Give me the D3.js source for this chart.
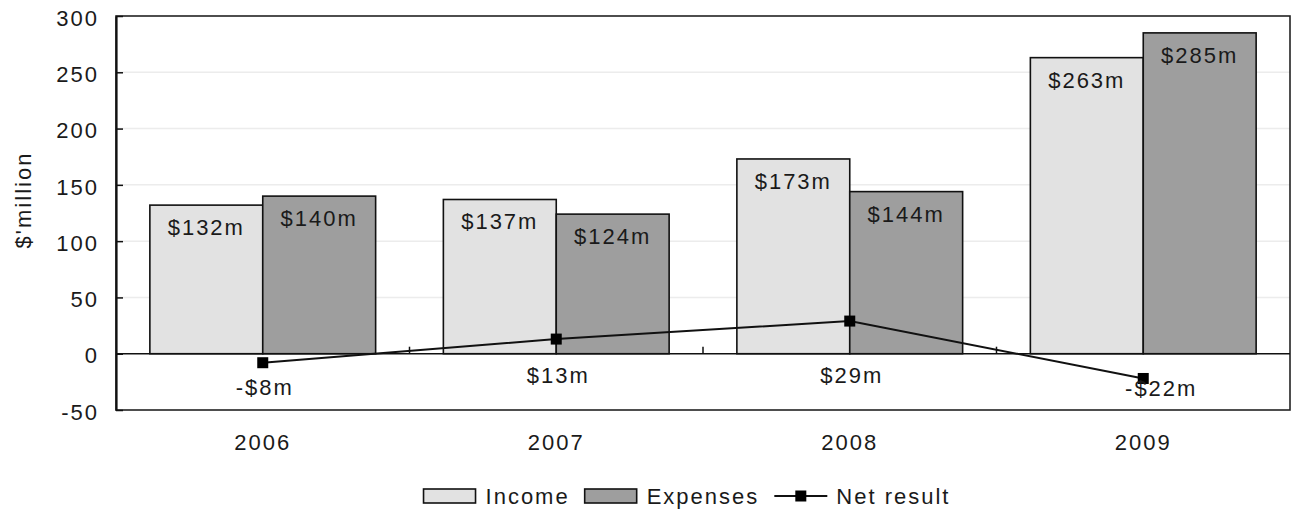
<!DOCTYPE html>
<html>
<head>
<meta charset="utf-8">
<script src="https://cdn.jsdelivr.net/npm/d3@7"></script>
<style>
  html, body { margin: 0; padding: 0; background: #fff; }
  svg { display: block; }
  text { font-family: "Liberation Sans", Arial, sans-serif; font-size: 22px; fill: #1a1a1a; letter-spacing: 2px; }
</style>
</head>
<body>
<svg id="chart" width="1292" height="511"></svg>
<script>
// Financial summary, $ million
const years = ["2006", "2007", "2008", "2009"];
const income = [132, 137, 173, 263];
const expenses = [140, 124, 144, 285];
const netResult = [-8, 13, 29, -22];
const yTicks = [-50, 0, 50, 100, 150, 200, 250, 300];
const seriesNames = ["Income", "Expenses", "Net result"];
const barColors = { Income: "#e2e2e2", Expenses: "#9e9e9e" };

const svg = d3.select("#chart");
const plot = { left: 116, right: 1290, top: 16, bottom: 410 };

const x = d3.scaleBand().domain(years).range([plot.left, plot.right]).padding(0);
const xInner = d3.scaleBand().domain(["Income", "Expenses"]).range([0, x.bandwidth()])
  .paddingInner(0).paddingOuter(0.3);
const y = d3.scaleLinear().domain([-50, 300]).range([plot.bottom, plot.top]);

const money = v => (v < 0 ? "-$" : "$") + Math.abs(v) + "m";

// light gridlines
svg.append("g").selectAll("line")
  .data(yTicks.filter(t => t !== 0 && t !== 300 && t !== -50))
  .join("line")
  .attr("x1", plot.left).attr("x2", plot.right)
  .attr("y1", d => y(d)).attr("y2", d => y(d))
  .attr("stroke", "#ececec").attr("stroke-width", 1.5);

// bars
const rows = years.map((yr, i) => ({ year: yr, Income: income[i], Expenses: expenses[i] }));
const barG = svg.append("g");
["Income", "Expenses"].forEach(key => {
  const g = barG.append("g");
  g.selectAll("rect").data(rows).join("rect")
    .attr("x", d => x(d.year) + xInner(key))
    .attr("y", d => y(d[key]))
    .attr("width", xInner.bandwidth())
    .attr("height", d => y(0) - y(d[key]))
    .attr("fill", barColors[key])
    .attr("stroke", "#111").attr("stroke-width", 1.6);
  g.selectAll("text").data(rows).join("text")
    .attr("x", d => x(d.year) + xInner(key) + xInner.bandwidth() / 2)
    .attr("y", d => y(d[key]) + 30)
    .attr("text-anchor", "middle")
    .text(d => money(d[key]));
});

// plot frame
svg.append("rect")
  .attr("x", plot.left).attr("y", plot.top)
  .attr("width", plot.right - plot.left).attr("height", plot.bottom - plot.top)
  .attr("fill", "none").attr("stroke", "#222").attr("stroke-width", 1.6);

// y axis with inward ticks
const yAxis = d3.axisLeft(y).tickValues(yTicks).tickFormat(d => String(d))
  .tickSizeInner(-7).tickSizeOuter(0).tickPadding(17);
const yg = svg.append("g").attr("transform", `translate(${plot.left},0)`).call(yAxis);
yg.select(".domain").attr("stroke", "#111").attr("stroke-width", 2.2);
yg.selectAll(".tick line").attr("stroke", "#111").attr("stroke-width", 1.5);
yg.selectAll(".tick text").attr("font-size", null).attr("font-family", null).attr("dy", "0.42em");

// zero line with category boundary ticks
svg.append("line")
  .attr("x1", plot.left).attr("x2", plot.right)
  .attr("y1", y(0)).attr("y2", y(0))
  .attr("stroke", "#111").attr("stroke-width", 1.6);
svg.append("g").selectAll("line").data(years.slice(1)).join("line")
  .attr("x1", d => x(d)).attr("x2", d => x(d))
  .attr("y1", y(0)).attr("y2", y(0) - 7)
  .attr("stroke", "#111").attr("stroke-width", 1.5);

// category labels
const xAxis = d3.axisBottom(x).tickSize(0).tickPadding(24);
const xg = svg.append("g").attr("transform", `translate(0,${plot.bottom})`).call(xAxis);
xg.select(".domain").remove();
xg.selectAll(".tick text").attr("font-size", null).attr("font-family", null).attr("dy", "0.71em");

// net result line
const pts = years.map((yr, i) => ({ year: yr, v: netResult[i] }));
const cx = d => x(d.year) + x.bandwidth() / 2;
svg.append("path")
  .datum(pts)
  .attr("d", d3.line().x(cx).y(d => y(d.v)))
  .attr("fill", "none").attr("stroke", "#111").attr("stroke-width", 2);
svg.append("g").selectAll("rect").data(pts).join("rect")
  .attr("x", d => cx(d) - 5.5).attr("y", d => y(d.v) - 5.5)
  .attr("width", 11).attr("height", 11).attr("fill", "#000");
svg.append("g").selectAll("text").data(pts).join("text")
  .attr("x", d => cx(d) + (d.v < -15 ? 18 : 2))
  .attr("y", d => d.v >= 0 ? y(0) + 29 : Math.max(y(d.v) + 18, y(0) + 41))
  .attr("text-anchor", "middle")
  .text(d => money(d.v));

// y axis title
svg.append("text")
  .attr("transform", "translate(31,200) rotate(-90)")
  .attr("text-anchor", "middle")
  .text("$'million");

// legend
const legend = svg.append("g");
let lx = 0;
const ly = 496;
seriesNames.forEach((name, i) => {
  const item = legend.append("g").attr("transform", `translate(${lx},0)`);
  if (i < 2) {
    item.append("rect").attr("x", 0).attr("y", ly - 7).attr("width", 52).attr("height", 14)
      .attr("fill", barColors[name]).attr("stroke", "#111").attr("stroke-width", 1.6);
  } else {
    item.append("line").attr("x1", 0).attr("x2", 53).attr("y1", ly).attr("y2", ly)
      .attr("stroke", "#111").attr("stroke-width", 2);
    item.append("rect").attr("x", 26.5 - 5.5).attr("y", ly - 5.5).attr("width", 11).attr("height", 11)
      .attr("fill", "#000");
  }
  const keyW = i < 2 ? 52 : 53;
  const t = item.append("text").attr("x", keyW + (i < 2 ? 10 : 9)).attr("y", ly + 8).text(name);
  lx += keyW + (i < 2 ? 10 : 9) + t.node().getComputedTextLength() + 15;
});
const lb = legend.node().getBBox();
legend.attr("transform", `translate(${687 - (lb.x + lb.width / 2)},0)`);
</script>
</body>
</html>
